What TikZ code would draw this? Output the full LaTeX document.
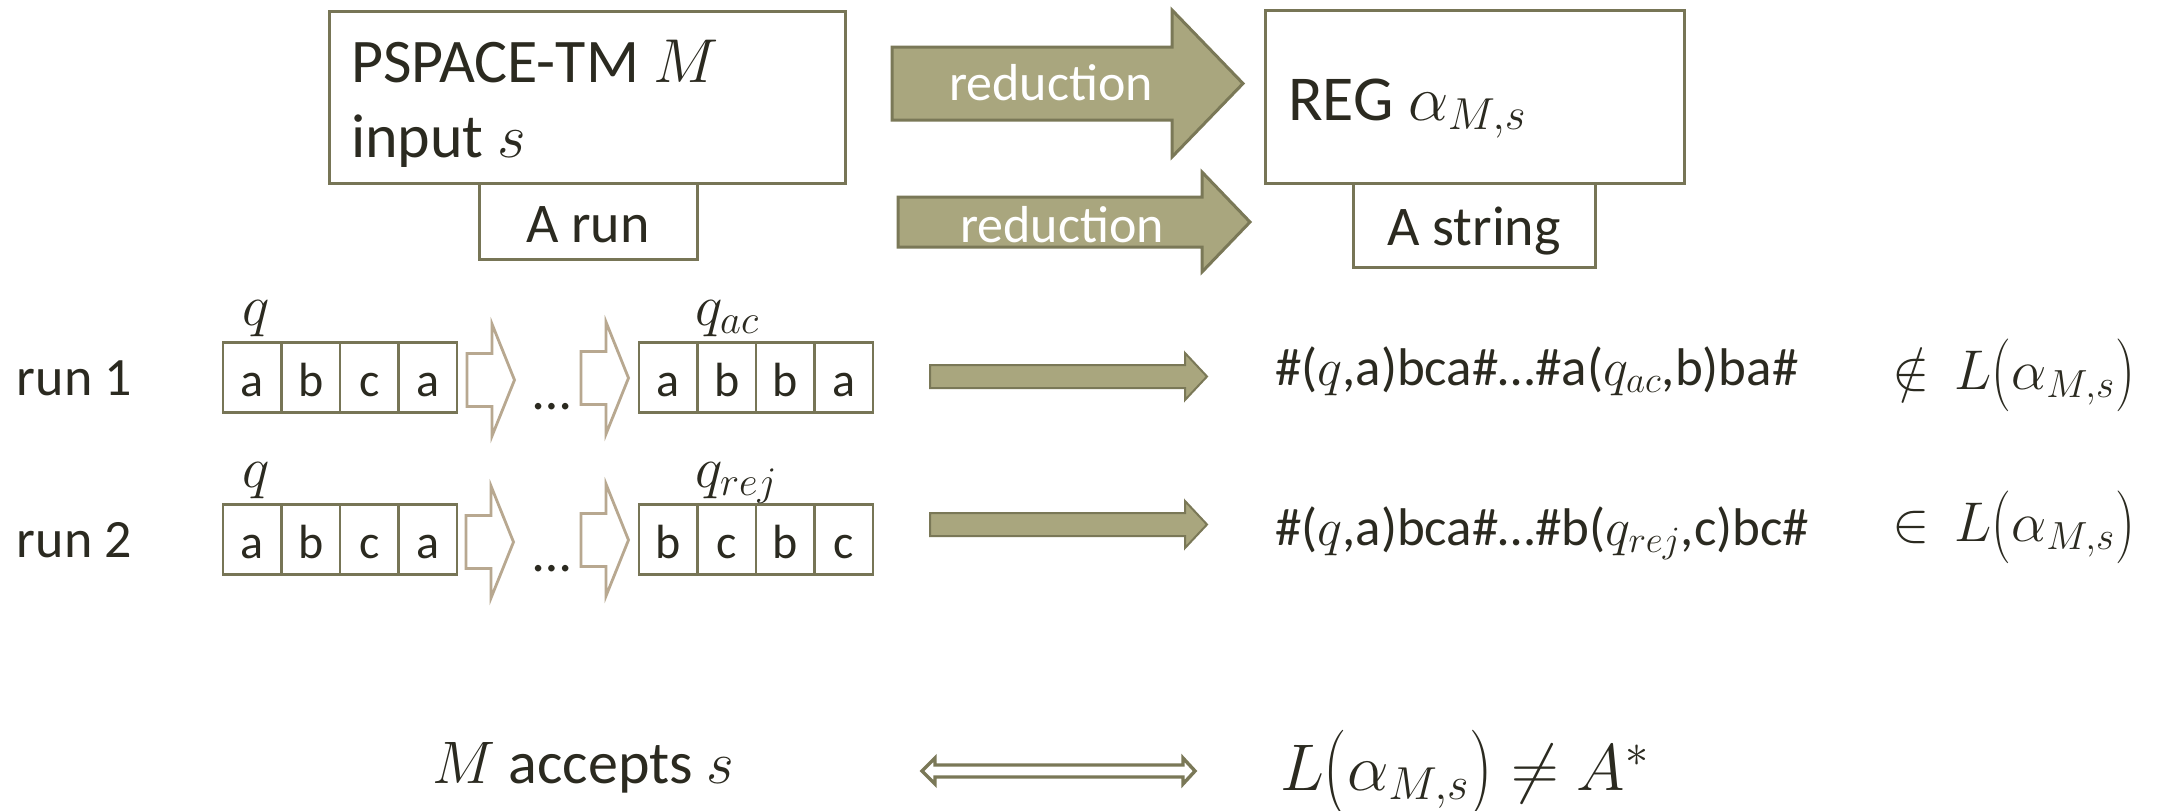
\RequirePackage{fix-cm}
\documentclass[tikz,border=0pt]{standalone}
\usepackage{fontspec}
\setmainfont{Carlito}
\usepackage{graphicx}
\definecolor{boxline}{HTML}{777556}
\definecolor{arrowfill}{HTML}{A9A67E}
\definecolor{arrowline}{HTML}{7A7857}
\definecolor{hollowline}{HTML}{B8A890}
\definecolor{ink}{HTML}{2B2A20}
\newcommand\fs[1]{\fontsize{#1}{#1}\selectfont}
\newcommand\tlp{\mathopen{\vcenter{\hbox{\scalebox{1}[1.3]{$($}}}}}
\newcommand\trp{\mathclose{\vcenter{\hbox{\scalebox{1}[1.3]{$)$}}}}}
\tikzset{
  bigbox/.style={draw=boxline, line width=1.5pt, fill=white, rectangle},
  cell/.style={draw=boxline, line width=1.4pt, rectangle, minimum width=29.25pt, minimum height=35pt,
    text height=20pt, text depth=1.5pt, font=\fs{24}},
  blockarrow/.style={fill=arrowfill, draw=arrowline, line width=1.5pt, line join=miter},
  rowarrow/.style={fill=arrowfill, draw=arrowline, line width=1pt, line join=miter},
  hollowarr/.pic={\draw[hollowline, line width=1.4pt, fill=white, line join=miter]
    (-25,-26.5) -- (0,-26.5) -- (0,-56) -- (22.5,0) -- (0,56) -- (0,26.5) -- (-25,26.5) -- cycle;},
  lbl/.style={anchor=base west},
}
\begin{document}
\begin{tikzpicture}[x=0.5pt,y=-0.5pt, every node/.style={inner sep=0pt, outer sep=0pt, text=ink}]
\useasboundingbox[fill=white] (0,0) rectangle (2158,810);

% top boxes
\node[bigbox, minimum width=258pt, minimum height=86pt] (tm) at (587,97) {};
\node[bigbox, minimum width=109pt, minimum height=38pt, font=\fs{28}, text height=22pt, text depth=1pt] (arun) at (588,221) {A run};
\node[lbl, font=\fs{31}] (tm1) at (351,82) {PSPACE-TM $M$};
\node[lbl, font=\fs{31}] (tm2) at (351,157) {input $s$};

\node[bigbox, minimum width=209.5pt, minimum height=86.5pt] (reg) at (1474.5,96.5) {};
\node[bigbox, minimum width=121pt, minimum height=42pt, font=\fs{28}, text height=21pt, text depth=1pt] (astr) at (1474,225) {A string};
\node[lbl, font=\fs{32}] (regtxt) at (1288,120) {REG $\alpha_{M,s}$};

% reduction arrows
\draw[blockarrow] (892,47) -- (1172,47) -- (1172,10) -- (1243,83.5) -- (1172,157) -- (1172,120) -- (892,120) -- cycle;
\node[anchor=base, font=\fs{26}, text=white] (red1) at (1051,100) {reduction};
\draw[blockarrow] (898,197) -- (1202,197) -- (1202,172) -- (1250,222) -- (1202,272) -- (1202,247) -- (898,247) -- cycle;
\node[anchor=base, font=\fs{26}, text=white] (red2) at (1062,242) {reduction};

% run labels
\node[lbl, font=\fs{27}] (run1) at (17,395) {run 1};
\node[lbl, font=\fs{27}] (run2) at (17,557) {run 2};

% cells row 1
\foreach \l [count=\i] in {a,b,c,a}
  \node[cell] (r1a\i) at ({252.25+58.5*(\i-1)},377.5) {\l};
\foreach \l [count=\i] in {a,b,b,a}
  \node[cell] (r1b\i) at ({668.25+58.5*(\i-1)},377.5) {\l};
% cells row 2
\foreach \l [count=\i] in {a,b,c,a}
  \node[cell] (r2a\i) at ({252.25+58.5*(\i-1)},539.5) {\l};
\foreach \l [count=\i] in {b,c,b,c}
  \node[cell] (r2b\i) at ({668.25+58.5*(\i-1)},539.5) {\l};

% state labels
\node[lbl, font=\fs{29}] (q1) at (242,325) {$q$};
\node[lbl, font=\fs{29}] (qac) at (695,325) {$q_{ac}$};
\node[lbl, font=\fs{29}] (q2) at (242,487) {$q$};
\node[lbl, font=\fs{29}] (qrej) at (695,487) {$q_{rej}$};

% hollow step arrows and dots
\pic at (492,380) {hollowarr};
\pic at (606,378) {hollowarr};
\pic at (491,542) {hollowarr};
\pic at (606,540) {hollowarr};
\node[anchor=base, font=\fs{27}] (dots1) at (552,409) {…};
\node[anchor=base, font=\fs{27}] (dots2) at (552,571) {…};

% row arrows
\draw[rowarrow] (930,365) -- (1185,365) -- (1185,353) -- (1207,376.5) -- (1185,400) -- (1185,388) -- (930,388) -- cycle;
\draw[rowarrow] (930,513) -- (1185,513) -- (1185,501) -- (1207,524.5) -- (1185,548) -- (1185,536) -- (930,536) -- cycle;

% strings
\node[lbl, font=\fs{26.5}] (s1) at (1275,385) {\#($q$,a)bca\#…\#a($q_{ac}$,b)ba\#};
\node[lbl, font=\fs{26.5}] (s2) at (1275,545) {\#($q$,a)bca\#…\#b($q_{rej}$,c)bc\#};

% memberships
\node[anchor=base east, font=\fs{28}] (m1) at (2135,389) {$\notin\, L\tlp\alpha_{M,s}\trp$};
\node[anchor=base east, font=\fs{28}] (m2) at (2135,541) {$\in\, L\tlp\alpha_{M,s}\trp$};

% bottom
\node[lbl, font=\fs{30}] (acc) at (432,783) {$M$ accepts $s$};
\draw[draw=arrowline, line width=1.7pt, fill=white, line join=miter]
  (922,771) -- (935,758) -- (935,765) -- (1183,765) -- (1183,758) -- (1195,771) -- (1183,784) -- (1183,777) -- (935,777) -- (935,784) -- cycle;
\node[lbl, font=\fs{33}] (lang) at (1280,790) {$L\tlp\alpha_{M,s}\trp\neq A^{*}$};
\end{tikzpicture}
\end{document}
